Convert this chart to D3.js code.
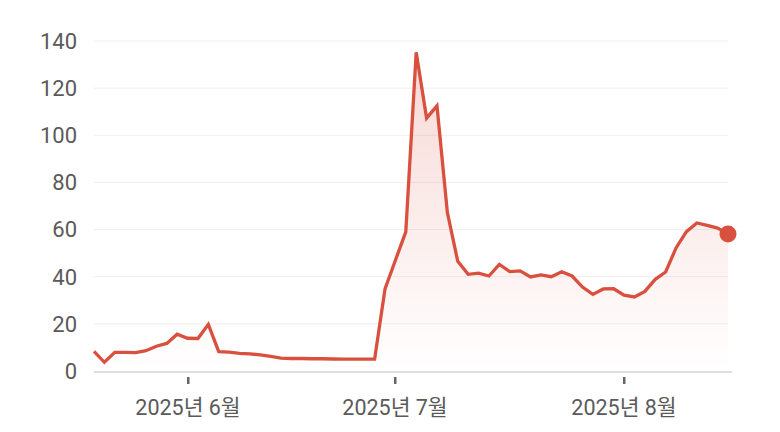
<!DOCTYPE html>
<html>
<head>
<meta charset="utf-8">
<script src="https://cdn.jsdelivr.net/npm/d3@7"></script>
<style>
  html, body { margin: 0; padding: 0; background: #fff; }
  svg { display: block; }
  .y-label { font-family: Roboto, "Noto Sans CJK KR", sans-serif; font-size: 22px; fill: #5a5a5a; }
  .x-label { font-family: Roboto, "Noto Sans CJK KR", sans-serif; font-size: 21.5px; fill: #5a5a5a; }
</style>
</head>
<body>
<div id="chart"></div>
<script>
// one value per trading day, late May .. mid Aug 2025
const values = [
  8.3, 3.7, 7.9, 7.9, 7.8, 8.6, 10.5, 11.7, 15.6, 13.9,
  13.8, 19.8, 8.2, 8.0, 7.5, 7.3, 6.8, 6.2, 5.5, 5.3,
  5.3, 5.2, 5.2, 5.1, 5.0, 5.0, 5.0, 5.0, 34.8, 47.0,
  59.0, 135.2, 107.3, 112.5, 67.2, 46.5, 41.0, 41.5, 40.3, 45.2,
  42.2, 42.5, 39.9, 40.8, 40.0, 42.1, 40.3, 35.6, 32.5, 34.8,
  34.9, 32.2, 31.4, 33.8, 38.9, 42.0, 52.2, 59.1, 62.8, 61.8,
  60.6, 58.1
];
const monthTicks = [9, 29, 51];
const monthLabels = ["2025년 6월", "2025년 7월", "2025년 8월"];
const yTicks = [0, 20, 40, 60, 80, 100, 120, 140];

const width = 780, height = 432;
const margin = {top: 41, right: 52, bottom: 61, left: 94};
const lineColor = "#d9503e";

let svg = d3.select("#chart").append("svg")
    .attr("width", width)
    .attr("height", height);

let x = d3.scaleLinear()
    .domain([0, values.length - 1])
    .range([margin.left, width - margin.right]);

let y = d3.scaleLinear()
    .domain([0, 140])
    .range([height - margin.bottom, margin.top]);

// gradient under the line
let defs = svg.append("defs");
let grad = defs.append("linearGradient")
    .attr("id", "areaFill")
    .attr("gradientUnits", "userSpaceOnUse")
    .attr("x1", 0).attr("x2", 0)
    .attr("y1", y(d3.max(values))).attr("y2", y(0));
grad.append("stop").attr("offset", "0%").attr("stop-color", lineColor).attr("stop-opacity", 0.22);
grad.append("stop").attr("offset", "100%").attr("stop-color", lineColor).attr("stop-opacity", 0);

// grid lines
svg.append("g")
  .selectAll("line")
  .data(yTicks.filter(d => d > 0))
  .join("line")
    .attr("x1", x(0))
    .attr("x2", x(values.length - 1))
    .attr("y1", d => y(d))
    .attr("y2", d => y(d))
    .attr("stroke", "#efefef")
    .attr("stroke-width", 1);

// y labels
svg.append("g")
  .selectAll("text")
  .data(yTicks)
  .join("text")
    .attr("class", "y-label")
    .attr("x", 77)
    .attr("y", d => y(d))
    .attr("dy", "0.36em")
    .attr("text-anchor", "end")
    .text(d => d);

// area
let area = d3.area()
    .x((d, i) => x(i))
    .y0(y(0))
    .y1(d => y(d));

svg.append("path")
    .datum(values)
    .attr("d", area)
    .attr("fill", "url(#areaFill)");

// x axis baseline
svg.append("line")
    .attr("x1", x(0))
    .attr("x2", x(values.length - 1) + 4)
    .attr("y1", y(0) + 1)
    .attr("y2", y(0) + 1)
    .attr("stroke", "#dedede")
    .attr("stroke-width", 2);

// month ticks + labels
let xt = svg.append("g")
  .selectAll("g")
  .data(monthTicks)
  .join("g")
    .attr("transform", d => "translate(" + Math.round(x(d)) + ",0)");

xt.append("rect")
    .attr("x", -1)
    .attr("y", y(0) + 6)
    .attr("width", 2.5)
    .attr("height", 7)
    .attr("fill", "#666");

xt.append("text")
    .attr("class", "x-label")
    .attr("y", y(0) + 44)
    .attr("text-anchor", "middle")
    .text((d, i) => monthLabels[i]);

// main line
let line = d3.line()
    .x((d, i) => x(i))
    .y(d => y(d));

svg.append("path")
    .datum(values)
    .attr("d", line)
    .attr("fill", "none")
    .attr("stroke", lineColor)
    .attr("stroke-width", 3.3)
    .attr("stroke-linejoin", "miter")
    .attr("stroke-miterlimit", 4);

// last point marker
let last = values.length - 1;
svg.append("circle")
    .attr("cx", x(last))
    .attr("cy", y(values[last]))
    .attr("r", 8.5)
    .attr("fill", lineColor);
</script>
</body>
</html>
